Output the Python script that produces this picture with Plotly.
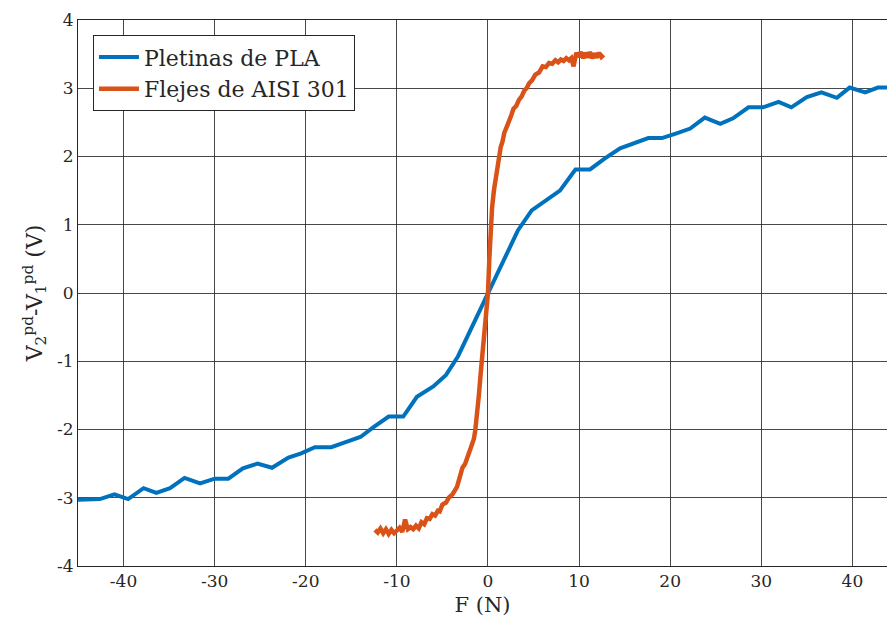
import plotly.graph_objects as go

# Blue series: Pletinas de PLA
pla_F = [-45.0, -42.6, -41.0, -39.5, -37.8, -36.4, -34.9, -33.3, -31.6, -30.0, -28.5,
         -26.9, -25.3, -23.7, -21.9, -20.5, -19.0, -17.2, -15.7, -14.0, -12.6, -10.9,
         -9.3, -7.8, -6.0, -4.6, -3.3, 0.0, 3.3, 4.8, 7.9, 9.6, 11.2, 12.8, 14.5, 17.6,
         19.1, 20.7, 22.2, 23.8, 25.5, 26.9, 28.6, 30.2, 31.9, 33.3, 35.0, 36.6, 38.3,
         39.7, 41.4, 42.8, 44.5]
pla_V = [-3.03, -3.02, -2.95, -3.02, -2.86, -2.93, -2.86, -2.71, -2.79, -2.72, -2.72,
         -2.57, -2.50, -2.56, -2.41, -2.35, -2.26, -2.26, -2.19, -2.11, -1.97, -1.81,
         -1.81, -1.52, -1.37, -1.20, -0.93, 0.0, 0.92, 1.21, 1.50, 1.81, 1.81, 1.97, 2.12,
         2.27, 2.27, 2.34, 2.41, 2.57, 2.48, 2.56, 2.72, 2.72, 2.80, 2.72, 2.87, 2.94,
         2.86, 3.01, 2.94, 3.01, 3.01]

# Orange series: Flejes de AISI 301
aisi_F = [-12.4, -12.1, -11.8, -11.5, -11.2, -10.9, -10.6, -10.3, -10.0, -9.7, -9.4,
          -9.1, -8.8, -8.5, -8.2, -7.9, -7.6, -7.3, -7.0, -6.7, -6.4, -6.1, -5.8, -5.5,
          -5.3, -5.0, -4.6, -4.3, -3.9, -3.6, -3.4, -3.1, -2.8, -2.5, -2.2, -1.95, -1.7,
          -1.55, -1.4, -1.2, -1.0, -0.8, -0.6, -0.45, -0.25, 0.0, 0.15, 0.3, 0.45, 0.66,
          0.85, 1.0, 1.2, 1.4, 1.6, 1.8, 2.05, 2.3, 2.55, 2.8, 3.1, 3.4, 3.7, 4.0, 4.25,
          4.5, 4.85, 5.2, 5.6, 6.0, 6.35, 6.7, 7.05, 7.4, 7.7, 8.0, 8.3, 8.6, 8.9, 9.15,
          9.4, 9.7, 9.95, 10.2, 10.45, 10.7, 10.95, 11.2, 11.45, 11.7, 11.95, 12.2, 12.45,
          12.7]
aisi_V = [-3.47, -3.51, -3.45, -3.52, -3.46, -3.53, -3.47, -3.52, -3.48, -3.44, -3.50,
          -3.32, -3.46, -3.43, -3.46, -3.41, -3.45, -3.36, -3.39, -3.30, -3.31, -3.24,
          -3.26, -3.19, -3.20, -3.10, -3.07, -3.00, -2.95, -2.86, -2.84, -2.70, -2.56,
          -2.50, -2.38, -2.32, -2.21, -2.14, -2.02, -1.81, -1.50, -1.18, -0.90, -0.69,
          -0.38, 0.0, 0.50, 0.97, 1.25, 1.51, 1.70, 1.85, 1.98, 2.14, 2.22, 2.35, 2.43,
          2.54, 2.60, 2.70, 2.74, 2.83, 2.88, 2.97, 3.00, 3.07, 3.12, 3.20, 3.23, 3.32,
          3.31, 3.37, 3.36, 3.41, 3.38, 3.42, 3.40, 3.44, 3.41, 3.44, 3.32, 3.52, 3.46,
          3.53, 3.44, 3.52, 3.45, 3.53, 3.44, 3.51, 3.45, 3.52, 3.46, 3.49]

x_ticks = [-40, -30, -20, -10, 0, 10, 20, 30, 40]
x_labels = ["-40", "-30", "-20", "-10", "0", "10", "20", "30", "40"]
y_ticks = [-4, -3, -2, -1, 0, 1, 2, 3, 4]
y_labels = ["-4", "-3", "-2", "-1", "0", "1", "2", "3", "4"]

FONT = "DejaVu Serif"
TXT = "#262626"

fig = go.Figure()
fig.add_trace(go.Scatter(x=pla_F, y=pla_V, mode="lines", name="Pletinas de PLA",
                         line=dict(color="#0072BD", width=4)))
fig.add_trace(go.Scatter(x=aisi_F, y=aisi_V, mode="lines", name="Flejes de AISI 301",
                         line=dict(color="#D95319", width=4.5)))

axis_common = dict(showgrid=True, gridcolor="rgba(40,40,40,0.85)", gridwidth=1,
                   showline=True, linecolor=TXT, linewidth=1, mirror=True,
                   zeroline=False, ticks="", tickfont=dict(family=FONT, size=17, color=TXT))

fig.update_xaxes(range=[-45, 43.8], tickvals=x_ticks, ticktext=x_labels,
                 title=dict(text="F (N)", font=dict(family=FONT, size=21, color=TXT),
                            standoff=6), **axis_common)
fig.update_yaxes(range=[-4, 4], tickvals=y_ticks, ticktext=y_labels,
                 title=dict(text="V<sub>2</sub><sup>pd</sup>-V<sub>1</sub><sup>pd</sup> (V)",
                            font=dict(family=FONT, size=22, color=TXT), standoff=8),
                 **axis_common)

fig.update_layout(
    width=887, height=630,
    margin=dict(l=78, r=0, t=20, b=64),
    paper_bgcolor="white", plot_bgcolor="white",
    font=dict(family=FONT, color=TXT),
    legend=dict(x=0.0185, y=0.972, xanchor="left", yanchor="top",
                bgcolor="white", bordercolor=TXT, borderwidth=1,
                font=dict(family=FONT, size=22, color=TXT),
                tracegroupgap=0, itemwidth=40),
    showlegend=True,
)

fig.write_html("out.html")
